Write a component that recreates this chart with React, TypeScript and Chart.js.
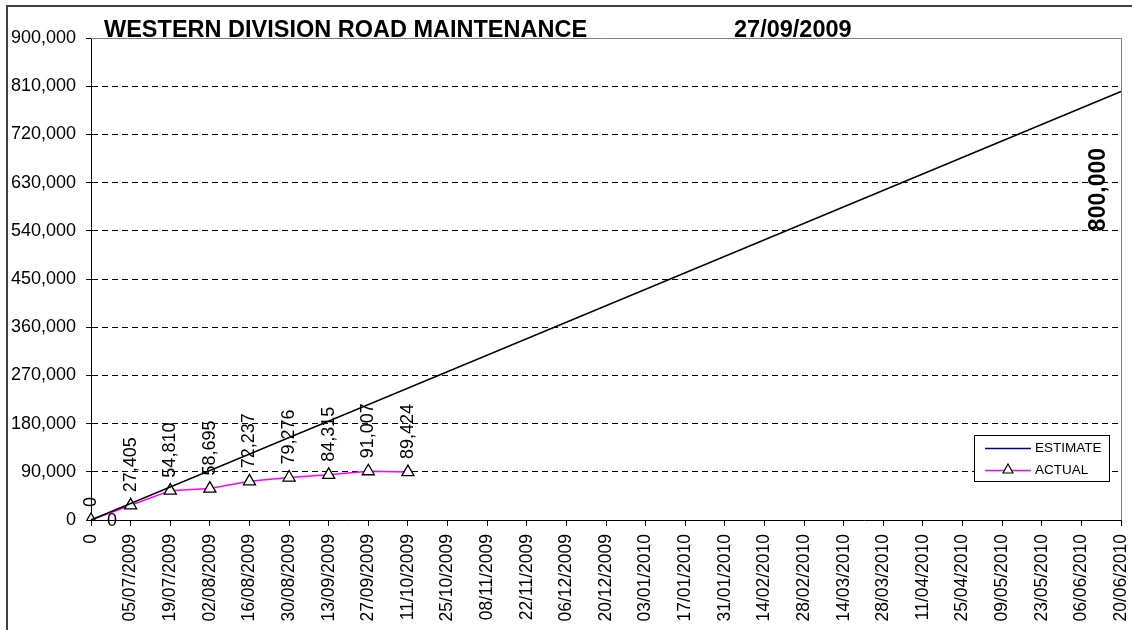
import React, { useEffect, useRef } from "react";
import { Chart, registerables } from "chart.js";

Chart.register(...registerables);

const TITLE = "WESTERN DIVISION ROAD MAINTENANCE";
const TITLE_DATE = "27/09/2009";

const categories = [
  "0", "05/07/2009", "19/07/2009", "02/08/2009", "16/08/2009", "30/08/2009",
  "13/09/2009", "27/09/2009", "11/10/2009", "25/10/2009", "08/11/2009",
  "22/11/2009", "06/12/2009", "20/12/2009", "03/01/2010", "17/01/2010",
  "31/01/2010", "14/02/2010", "28/02/2010", "14/03/2010", "28/03/2010",
  "11/04/2010", "25/04/2010", "09/05/2010", "23/05/2010", "06/06/2010",
  "20/06/2010",
];

// Estimate: straight line from 0 to 800,000 (only endpoints given)
const estimate: (number | null)[] = [
  0, null, null, null, null, null, null, null, null, null, null, null, null, null,
  null, null, null, null, null, null, null, null, null, null, null, null, 800000,
];

const actual: (number | null)[] = [
  0, 27405, 54810, 58695, 72237, 79276, 84315, 91007, 89424,
  null, null, null, null, null, null, null, null, null, null, null, null, null,
  null, null, null, null, null,
];

const yTicks = [0, 90000, 180000, 270000, 360000, 450000, 540000, 630000, 720000, 810000, 900000];

const FONT = "Arial, 'Liberation Sans', sans-serif";
const fmt = (v: number) => v.toLocaleString("en-US");

const decorPlugin = {
  id: "decor",
  afterDraw(chart: any) {
    const { ctx, chartArea } = chart;
    const { left, right, top, bottom } = chartArea;
    ctx.save();
    // outer frame
    ctx.strokeStyle = "#404040";
    ctx.lineWidth = 2;
    ctx.beginPath();
    ctx.moveTo(7, 640);
    ctx.lineTo(7, 6);
    ctx.lineTo(1140, 6);
    ctx.stroke();

    // plot border top/right grey
    ctx.strokeStyle = "#808080";
    ctx.lineWidth = 1;
    ctx.beginPath();
    ctx.moveTo(left, Math.round(top) + 0.5);
    ctx.lineTo(Math.round(right) + 0.5, Math.round(top) + 0.5);
    ctx.lineTo(Math.round(right) + 0.5, bottom);
    ctx.stroke();

    // title
    ctx.fillStyle = "#000";
    ctx.font = `bold 23.5px ${FONT}`;
    ctx.textAlign = "left";
    ctx.textBaseline = "alphabetic";
    ctx.fillText(TITLE, 104, 37);
    ctx.fillText(TITLE_DATE, 734, 37);

    // data labels for actual
    const metaA = chart.getDatasetMeta(1);
    ctx.font = `18px ${FONT}`;
    actual.forEach((v, i) => {
      if (v === null) return;
      const p = metaA.data[i];
      ctx.save();
      ctx.translate(p.x, p.y - 13);
      ctx.rotate(-Math.PI / 2);
      ctx.textAlign = "left";
      ctx.textBaseline = "middle";
      ctx.fillText(fmt(v), 0, 0);
      ctx.restore();
    });

    // estimate labels
    const metaE = chart.getDatasetMeta(0);
    estimate.forEach((v, i) => {
      if (v === null) return;
      const p = metaE.data[i];
      if (i === 0) {
        ctx.font = `18px ${FONT}`;
        ctx.textAlign = "left";
        ctx.textBaseline = "middle";
        ctx.fillText(fmt(v), p.x + 16, p.y + 1);
      } else {
        ctx.save();
        ctx.font = `bold 23px ${FONT}`;
        ctx.translate(p.x - 22, p.y + 98);
        ctx.rotate(-Math.PI / 2);
        ctx.textAlign = "center";
        ctx.textBaseline = "middle";
        ctx.fillText(fmt(v), 0, 0);
        ctx.restore();
      }
    });

    // legend
    const lx = 974, ly = 435, lw = 135, lh = 46;
    ctx.fillStyle = "#fff";
    ctx.fillRect(lx, ly, lw, lh);
    ctx.strokeStyle = "#000";
    ctx.lineWidth = 1;
    ctx.strokeRect(lx + 0.5, ly + 0.5, lw, lh);
    ctx.lineWidth = 1.5;
    ctx.strokeStyle = "#000080";
    ctx.beginPath();
    ctx.moveTo(985, 448.5);
    ctx.lineTo(1031, 448.5);
    ctx.stroke();
    ctx.strokeStyle = "#ff00ff";
    ctx.beginPath();
    ctx.moveTo(985, 470.5);
    ctx.lineTo(1031, 470.5);
    ctx.stroke();
    // triangle marker
    ctx.fillStyle = "#fff";
    ctx.strokeStyle = "#000";
    ctx.lineWidth = 1.2;
    ctx.beginPath();
    ctx.moveTo(1008, 464);
    ctx.lineTo(1013, 473);
    ctx.lineTo(1003, 473);
    ctx.closePath();
    ctx.fill();
    ctx.stroke();
    ctx.fillStyle = "#000";
    ctx.font = `13.5px ${FONT}`;
    ctx.textAlign = "left";
    ctx.textBaseline = "middle";
    ctx.fillText("ESTIMATE", 1035, 448);
    ctx.fillText("ACTUAL", 1035, 470);
    ctx.restore();
  },
};

export default function App() {
  const ref = useRef<HTMLCanvasElement | null>(null);
  useEffect(() => {
    if (!ref.current) return;
    const chart = new Chart(ref.current, {
      type: "line",
      data: {
        labels: categories,
        datasets: [
          {
            label: "ESTIMATE",
            data: estimate,
            borderColor: "#000",
            borderWidth: 1.5,
            pointRadius: 0,
            spanGaps: true,
            tension: 0,
          },
          {
            label: "ACTUAL",
            data: actual,
            borderColor: "#ff00ff",
            borderWidth: 1.5,
            pointStyle: "triangle",
            pointRadius: 7,
            pointBorderColor: "#000",
            pointBackgroundColor: "#fff",
            pointBorderWidth: 1.3,
            spanGaps: false,
            tension: 0,
          },
        ],
      },
      options: {
        responsive: false,
        animation: false,
        devicePixelRatio: 1,
        layout: { padding: { left: 0, right: 11, top: 38, bottom: 0 } },
        plugins: { legend: { display: false }, title: { display: false }, tooltip: { enabled: false } },
        scales: {
          x: {
            type: "category",
            offset: false,
            grid: { drawOnChartArea: false, drawTicks: true, tickLength: 6, color: "#000", tickColor: "#000" },
            border: { display: true, color: "#000", width: 1 },
            ticks: {
              autoSkip: false,
              minRotation: 90,
              maxRotation: 90,
              padding: 8,
              color: "#000",
              font: { family: FONT, size: 17.5 },
            },
            afterFit(scale: any) {
              scale.height = 110;
              scale.paddingLeft = 0;
              scale.paddingRight = 0;
            },
          },
          y: {
            min: 0,
            max: 900000,
            afterBuildTicks(scale: any) {
              scale.ticks = yTicks.map((v) => ({ value: v }));
            },
            grid: {
              drawTicks: true,
              tickLength: 5,
              tickColor: "#000",
              color: (c: any) => (c.tick && (c.tick.value === 0 || c.tick.value === 900000) ? "rgba(0,0,0,0)" : "#000"),
            },
            border: { display: true, color: "#000", width: 1, dash: [6, 4] },
            ticks: {
              padding: 10,
              color: "#000",
              font: { family: FONT, size: 18 },
              callback: (v: any) => fmt(Number(v)),
            },
            afterFit(scale: any) {
              scale.width = 91;
              scale.paddingTop = 0;
              scale.paddingBottom = 0;
            },
          },
        },
      },
      plugins: [decorPlugin],
    });
    return () => chart.destroy();
  }, []);
  return (
    <div style={{ position: "fixed", left: 0, top: 0, width: 1132, height: 630, background: "#fff" }}>
      <canvas ref={ref} width={1132} height={630} style={{ display: "block" }} />
    </div>
  );
}
